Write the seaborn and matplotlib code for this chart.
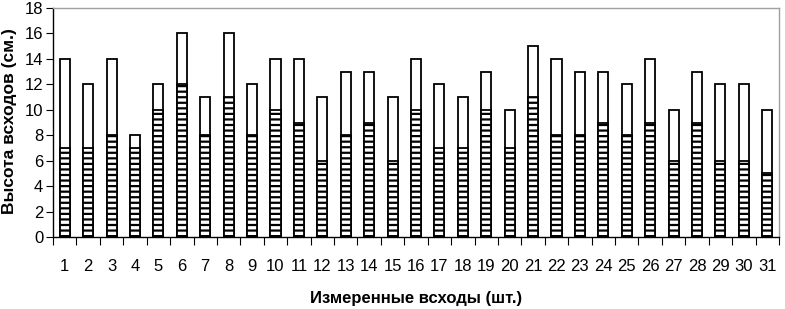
import numpy as np
import pandas as pd
import matplotlib
matplotlib.use("Agg")
import matplotlib.pyplot as plt
import seaborn as sns

days = list(range(1, 32))
total_height = [14, 12, 14, 8, 12, 16, 11, 16, 12, 14, 14, 11, 13, 13, 11, 14,
                12, 11, 13, 10, 15, 14, 13, 13, 12, 14, 10, 13, 12, 12, 10]
lower_part = [7, 7, 8, 7, 10, 12, 8, 11, 8, 10, 9, 6, 8, 9, 6, 10,
              7, 7, 10, 7, 11, 8, 8, 9, 8, 9, 6, 9, 6, 6, 5]
y_ticks = list(range(0, 19, 2))

sns.set_theme(style="white", rc={'text.color': 'black', 'axes.labelcolor': 'black',
                                 'xtick.color': 'black', 'ytick.color': 'black'})
plt.rcParams['font.family'] = ['Liberation Sans Narrow', 'Liberation Sans', 'DejaVu Sans']
plt.rcParams['hatch.linewidth'] = 1.6
plt.rcParams['hatch.color'] = 'black'

df = pd.DataFrame({'day': days, 'total': total_height, 'lower': lower_part})

fig = plt.figure(figsize=(7.85, 3.09), dpi=100)
ax = fig.add_axes([53 / 785, 1 - 237 / 309, (779 - 53) / 785, (237 - 8) / 309])

sns.barplot(data=df, x='day', y='total', color='white', edgecolor='black',
            linewidth=1.3, width=0.43, saturation=1, ax=ax)
sns.barplot(data=df, x='day', y='lower', color='white', edgecolor='black',
            linewidth=1.3, width=0.43, saturation=1, hatch='---', ax=ax)

ax.set_xlim(-0.5, 30.5)
ax.set_ylim(0, 18)
ax.set_yticks(y_ticks)
ax.set_xticks(np.arange(-0.5, 31, 1), minor=True)
ax.tick_params(axis='x', which='major', length=0, pad=16, labelsize=12)
ax.tick_params(axis='x', which='minor', length=6, width=0.8, color='black', bottom=True)
ax.tick_params(axis='y', length=5, width=0.8, color='black', left=True, pad=2, labelsize=12)

for side in ['left', 'bottom']:
    ax.spines[side].set_color('black')
    ax.spines[side].set_linewidth(1.0)
for side in ['top', 'right']:
    ax.spines[side].set_color('#a0a0a0')
    ax.spines[side].set_linewidth(1.0)

ax.set_xlabel('Измеренные всходы (шт.)', fontsize=12, fontweight='bold', labelpad=12)
ax.set_ylabel('Высота всходов (см.)', fontsize=12.5, fontweight='bold')
ax.yaxis.set_label_coords(-0.05, 0.505)

plt.savefig('out.png', dpi=100)
